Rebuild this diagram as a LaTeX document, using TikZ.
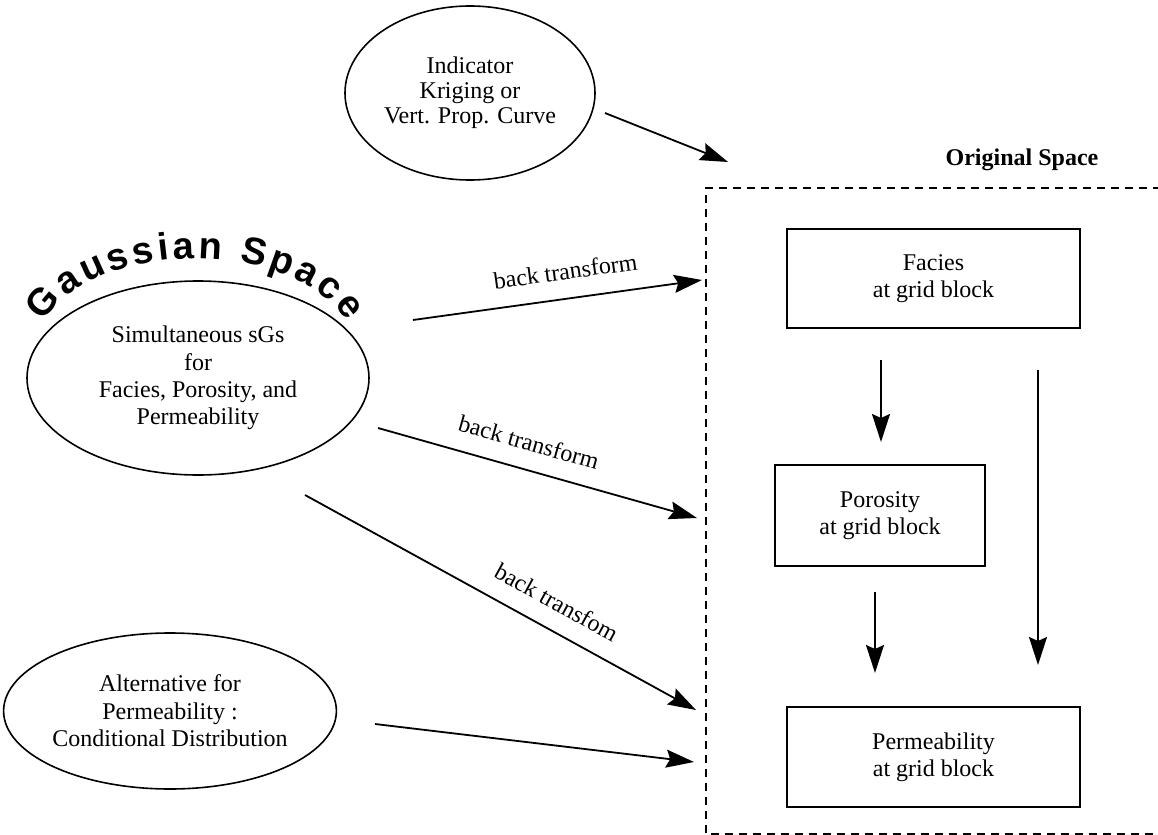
\documentclass[tikz,border=0pt]{standalone}
\usepackage{fontspec}
\setmainfont{Liberation Serif}
\newfontfamily\arcfont{Liberation Sans}
\usetikzlibrary{arrows.meta,shapes.geometric,decorations.text}

\begin{document}
\begin{tikzpicture}[x=0.5pt,y=-0.5pt,>={Stealth[length=14pt,width=9pt,inset=2pt]},
    every node/.style={font=\fontsize{12}{13.7}\selectfont, align=center},
    oval/.style={ellipse, draw, line width=0.8pt, inner sep=0pt},
    tight/.style={font=\fontsize{12}{12.5}\selectfont},
    blockbox/.style={rectangle, draw, line width=0.9pt, inner sep=0pt},
    flow/.style={->, line width=0.9pt},
    lbl/.style={sloped, above=7pt, inner sep=2pt}]
    \useasboundingbox (0,0) rectangle (1158,835);

    % Ellipses
    \node[oval, tight, minimum width=125pt, minimum height=87pt] (ik) at (470,93) {Indicator\\Kriging or\\Vert. Prop. Curve};
    \node[oval, minimum width=171pt, minimum height=97pt] (sgs) at (198,378) {Simultaneous sGs\\for\\Facies, Porosity, and\\Permeability};
    \node[oval, minimum width=150pt, minimum height=78pt] (alt) at (170,711) {Alternative for\\Permeability :\\Conditional Distribution};

    % Gaussian Space
    \path[decorate, decoration={text along path, text align={fit to path}, text format delimiters={|}{|},
        text={|\arcfont\bfseries\fontsize{19}{19}\selectfont|Gaussian Space}}]
        (44,322) arc[start angle=198, end angle=342, x radius=159, y radius=92];

    % Original Space
    \draw[line width=0.9pt, dash pattern=on 4pt off 3pt] (1175,188) -- (706,188) -- (706,834) -- (1175,834);
    \node[font=\fontsize{12}{13.7}\selectfont\bfseries] (orig) at (1022,160) {Original Space};

    % Boxes
    \node[blockbox, minimum width=146.5pt, minimum height=49.5pt] (fac) at (933.5,278.5) {Facies\\at grid block};
    \node[blockbox, minimum width=105pt, minimum height=50.5pt] (por) at (880,515.5) {Porosity\\at grid block};
    \node[blockbox, minimum width=146.5pt, minimum height=50pt] (perm) at (933.5,757) {Permeability\\at grid block};

    % Arrow ends
    \coordinate (ik-out) at (605,113);
    \coordinate (orig-in) at (728,162);
    \coordinate (sgs-a) at (413,320);
    \coordinate (fac-in) at (702,280);
    \coordinate (sgs-b) at (378,428);
    \coordinate (por-in) at (697,518);
    \coordinate (sgs-c) at (305,495);
    \coordinate (perm-in) at (696,710);
    \coordinate (alt-out) at (375,724);
    \coordinate (perm-in2) at (694,762);

    % Back transforms
    \draw[flow] (ik-out) -- (orig-in);
    \draw[flow] (sgs-a) -- (fac-in) node[lbl, pos=0.54] {back transform};
    \draw[flow] (sgs-b) -- (por-in) node[lbl, pos=0.45] {back transform};
    \draw[flow] (sgs-c) -- (perm-in) node[lbl, pos=0.61] {back transfom};
    \draw[flow] (alt-out) -- (perm-in2);

    % Inside original space
    \draw[flow] (881,360) coordinate (fac-s) -- (881,442) coordinate (por-n);
    \draw[flow] (875,592) coordinate (por-s) -- (875,673) coordinate (perm-n);
    \draw[flow] (1038,370) coordinate (fac-r) -- (1038,665) coordinate (perm-r);
\end{tikzpicture}
\end{document}
